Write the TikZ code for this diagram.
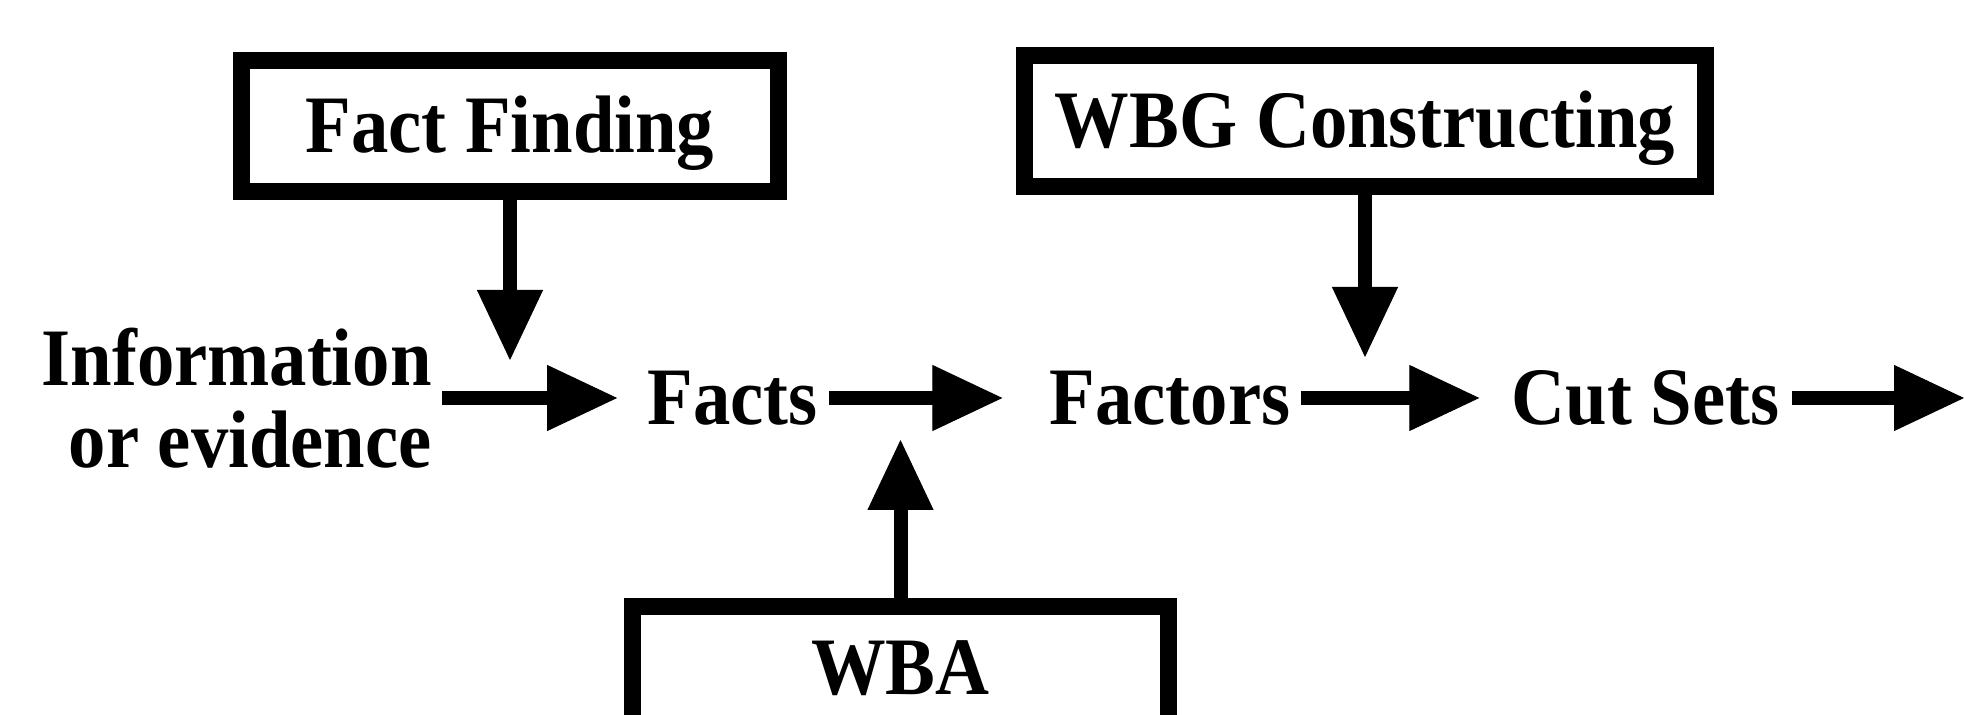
\documentclass[tikz,border=0pt]{standalone}
\usepackage{fontspec}
\setmainfont{Liberation Serif}[FakeStretch=0.915]
\usetikzlibrary{arrows.meta}
\begin{document}
\begin{tikzpicture}[x=0.5pt,y=-0.5pt,
  txt/.style={font=\fontsize{40.8pt}{41pt}\selectfont\bfseries, inner sep=0pt},
  lbl/.style={txt, text height=27pt, text depth=0pt},
  framebox/.style={lbl, draw, line width=8.5pt, minimum height=65.5pt},
  flow/.style={line width=7pt, -{Triangle[length=35pt,width=33pt,line width=0.5pt]}}]
\useasboundingbox (0,0) rectangle (1964,715);
\clip (0,0) rectangle (1964,715);
\fill[white] (0,0) rectangle (1964,715);
% boxes
\node[framebox, minimum width=268.5pt] (ff) at (510,126) {Fact Finding};
\node[framebox, minimum width=340.5pt] (wbg) at (1365,121) {WBG Constructing};
\node[framebox, minimum width=268pt, minimum height=61pt] (wba) at (900.5,667.5) {WBA};
% texts on the main line
\node[txt, align=right, anchor=east] (info) at (432,398) {Information\\or evidence};
\node[lbl] (facts) at (732.5,398) {Facts};
\node[lbl] (factors) at (1170,398) {Factors};
\node[lbl] (cuts) at (1645.5,398) {Cut Sets};
% free ends
\coordinate (ffend) at (510,360);
\coordinate (wbgend) at (1365,357);
\coordinate (wbaend) at (900.5,440);
\coordinate (outend) at (1964,398);
% connectors
\draw[flow] (ff.south) -- (ffend);
\draw[flow] (wbg.south) -- (wbgend);
\draw[flow] (wba.north) -- (wbaend);
\draw[flow, shorten <=5pt, shorten >=15pt] (info.east) -- (facts.west);
\draw[flow, shorten <=5.5pt, shorten >=23.5pt] (facts.east) -- (factors.west);
\draw[flow, shorten <=5pt, shorten >=16pt] (factors.east) -- (cuts.west);
\draw[flow, shorten <=6pt] (cuts.east) -- (outend);
\end{tikzpicture}
\end{document}
